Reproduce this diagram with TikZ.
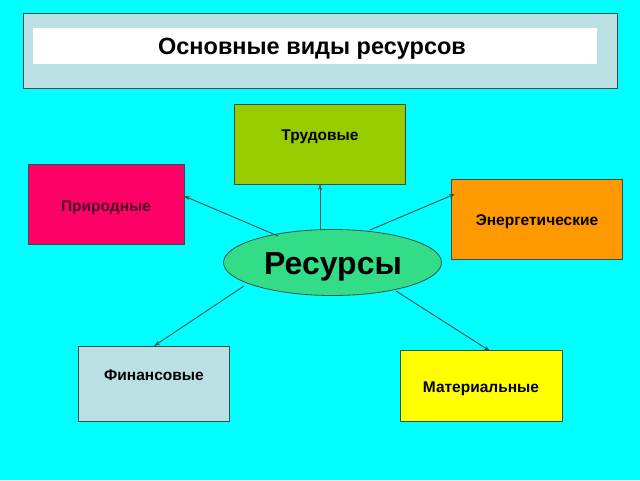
\documentclass[tikz,border=0pt]{standalone}
\usepackage{fontspec}
\setmainfont{Liberation Sans}
\usetikzlibrary{shapes.geometric,arrows.meta}
\definecolor{bgc}{HTML}{00FFFF}
\definecolor{titlebg}{HTML}{BBE0E3}
\definecolor{trud}{HTML}{99CC00}
\definecolor{prir}{HTML}{FF0066}
\definecolor{prirtxt}{HTML}{4D0026}
\definecolor{energ}{HTML}{FF9900}
\definecolor{fin}{HTML}{BBE0E3}
\definecolor{mat}{HTML}{FFFF00}
\definecolor{res}{HTML}{33DD88}
\definecolor{edge}{HTML}{2F4F4F}
\tikzset{
  box/.style={draw=edge, line width=0.8pt, rectangle, inner sep=0pt},
  lbl/.style={font=\bfseries\fontsize{15.5}{18}\selectfont, inner sep=0pt, anchor=base},
  conn/.style={draw=edge, line width=0.9pt, -{Stealth[length=6pt,width=4pt]}}
}
\begin{document}
\begin{tikzpicture}[x=1pt,y=-1pt]
\useasboundingbox (0,0) rectangle (640,480);
\fill[bgc] (0,0) rectangle (640,480);
% title
\node[box, fill=titlebg, minimum width=594pt, minimum height=75pt] (tb) at (320,50.5) {};
\node[fill=white, minimum width=564pt, minimum height=36pt, inner sep=0pt] (tw) at (315,46) {};
\node[font=\bfseries\fontsize{23.5}{28}\selectfont, inner sep=0pt, anchor=base] (tt) at (312,54.3) {Основные виды ресурсов};
% boxes
\node[box, fill=trud, minimum width=171pt, minimum height=80pt] (trud) at (319.5,144) {};
\node[lbl] (trudt) at (320,140.7) {Трудовые};
\node[box, fill=prir, minimum width=156pt, minimum height=80pt] (prir) at (106,204) {};
\node[lbl, text=prirtxt] (prirt) at (106,211) {Природные};
\node[box, fill=energ, minimum width=171pt, minimum height=80pt] (energ) at (536.5,219) {};
\node[lbl] (energt) at (537,225) {Энергетические};
\node[box, fill=fin, minimum width=151pt, minimum height=75pt] (fin) at (153.5,383.5) {};
\node[lbl] (fint) at (154,380) {Финансовые};
\node[box, fill=mat, minimum width=162pt, minimum height=71pt] (mat) at (481,385.5) {};
\node[lbl] (matt) at (481,392) {Материальные};
% centre
\node[ellipse, draw=edge, line width=0.8pt, fill=res, minimum width=218pt, minimum height=66pt, inner sep=0pt] (res) at (332.5,262.5) {};
\node[font=\bfseries\fontsize{32}{36}\selectfont, inner sep=0pt, anchor=base] (rest) at (333,274.5) {Ресурсы};
% connectors
\coordinate (s1) at (278,236);
\coordinate (s2) at (320,230);
\coordinate (s3) at (370,230);
\coordinate (s4) at (244,286);
\coordinate (s5) at (396,291);
\coordinate (e1) at (184,196);
\coordinate (e2) at (320,184);
\coordinate (e3) at (455,194);
\coordinate (e4) at (154,346);
\coordinate (e5) at (490,351);
\draw[conn] (s1) -- (e1);
\draw[conn] (s2) -- (e2);
\draw[conn] (s3) -- (e3);
\draw[conn] (s4) -- (e4);
\draw[conn] (s5) -- (e5);
\end{tikzpicture}
\end{document}
